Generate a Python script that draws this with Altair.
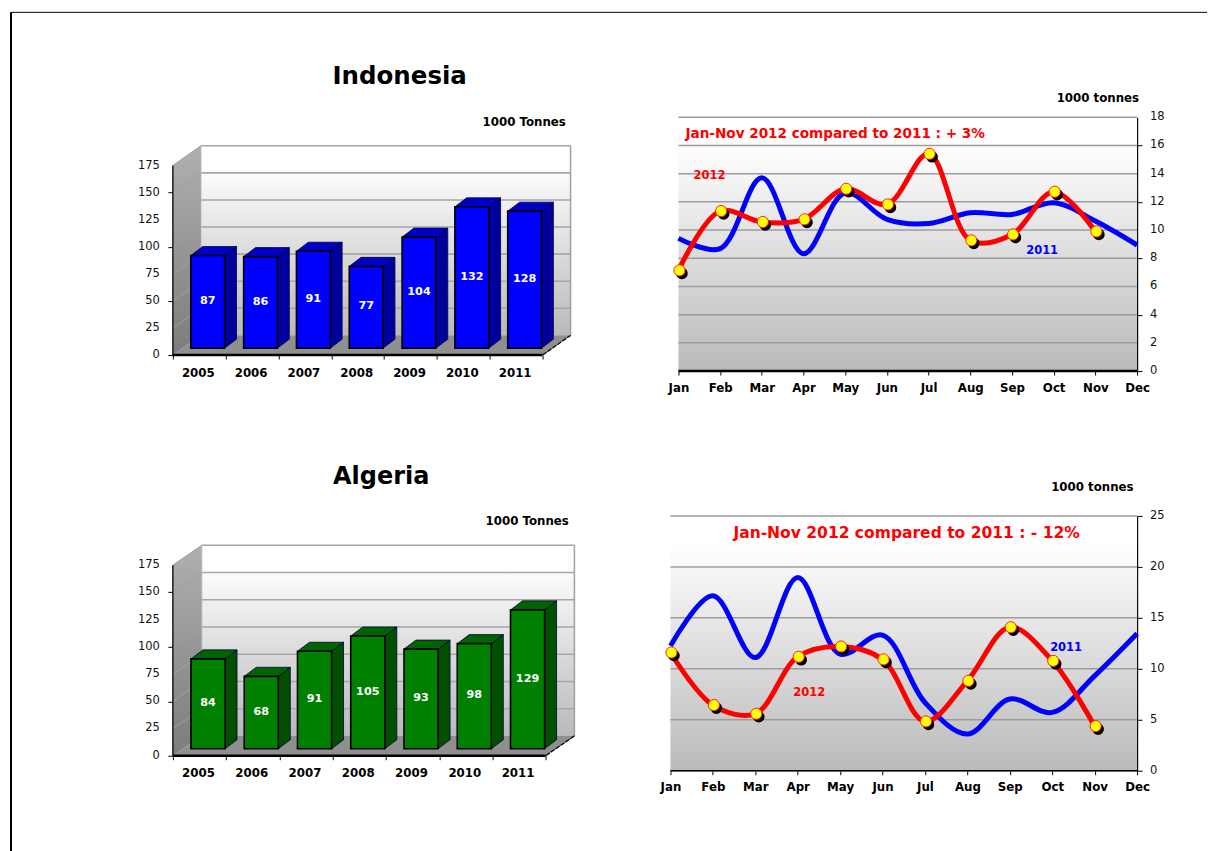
import altair as alt
import pandas as pd

FONT = "DejaVu Sans"
YEARS = ["2005", "2006", "2007", "2008", "2009", "2010", "2011"]
MONTHS = ["Jan", "Feb", "Mar", "Apr", "May", "Jun", "Jul", "Aug", "Sep", "Oct", "Nov", "Dec"]
TICKS_175 = [0, 25, 50, 75, 100, 125, 150, 175]

indonesia_annual = [87, 86, 91, 77, 104, 132, 128]
algeria_annual = [84, 68, 91, 105, 93, 98, 129]

indonesia_2012 = [7.14, 11.35, 10.57, 10.76, 12.93, 11.82, 15.41, 9.27, 9.69, 12.72, 9.9]
indonesia_2011 = [9.41, 8.68, 13.71, 8.32, 12.65, 10.76, 10.47, 11.23, 11.11, 11.94, 10.64, 8.94]
algeria_2012 = [11.6, 6.44, 5.59, 11.18, 12.19, 10.92, 4.84, 8.82, 14.08, 10.78, 4.38]
algeria_2011 = [12.25, 17.16, 11.1, 18.95, 11.44, 13.3, 6.7, 3.6, 7.03, 5.72, 9.31, 13.46]


def label(text, px, py, size, color="black", weight="bold", align="left"):
    return alt.Chart(pd.DataFrame({"t": [text]})).mark_text(
        font=FONT, fontSize=size, fontWeight=weight, color=color, align=align, baseline="middle"
    ).encode(x=alt.value(px), y=alt.value(py), text="t:N")


def gradient(stops):
    return alt.Gradient(gradient="linear", x1=0, y1=0, x2=0, y2=1,
                        stops=[alt.GradientStop(color=c, offset=o) for o, c in stops])


def bar_panel(values, front, top, side, width, height, xmax, ymax, dx, dy, overlays, extra=None):
    sx = alt.Scale(domain=[0, xmax], nice=False, zero=False)
    sy = alt.Scale(domain=[0, ymax], nice=False, zero=False)
    n = len(values)
    X = lambda f: alt.X(f, type="quantitative", scale=sx, title=None)
    Y = lambda f: alt.Y(f, type="quantitative", scale=sy, title=None)
    X2 = lambda f: alt.X2(f)
    Y2 = lambda f: alt.Y2(f)

    axes = alt.Chart(pd.DataFrame({"a": [0], "b": [n], "v": [0]})).mark_rule(opacity=0).encode(
        x=alt.X("a:Q", scale=sx, title=None, axis=alt.Axis(
            values=list(range(n + 1)), grid=False, domain=False, labels=False,
            tickColor="black", tickSize=4, tickWidth=1)),
        x2="b:Q",
        y=alt.Y("v:Q", scale=sy, title=None, axis=alt.Axis(
            values=TICKS_175, grid=False, domain=False, labels=False,
            tickColor="black", tickSize=5, tickWidth=1)),
    )
    # tick labels: years between the ticks, values left of the axis
    zero_px = height - 0
    year_text = alt.Chart(pd.DataFrame({"x": [i + 0.5 for i in range(n)], "t": YEARS})).mark_text(
        font=FONT, fontSize=11.8, fontWeight="bold", color="black", baseline="middle", dx=-1
    ).encode(x=X("x"), y=alt.value(zero_px + 17.5), text="t:N")
    value_text = alt.Chart(pd.DataFrame({"y": TICKS_175})).mark_text(
        font=FONT, fontSize=11.5, color="#111", baseline="middle", align="right"
    ).encode(x=alt.value(-13), y=Y("y"), text=alt.Text("y:Q", format="d"))
    base = alt.Chart(pd.DataFrame({"a": [0], "b": [n], "v": [0]})).mark_rule(
        color="black", strokeWidth=2.5
    ).encode(x=X("a"), x2=X2("b"), y=Y("v"))
    # back wall
    wall = alt.Chart(pd.DataFrame({"x": [dx], "x2": [n + dx], "y": [dy], "y2": [175 + dy]})).mark_rect(
        fill=gradient([(0, "#ffffff"), (0.1, "#ffffff"), (1, "#b9b9b9")])
    ).encode(x=X("x"), x2=X2("x2"), y=Y("y"), y2=Y2("y2"))
    # side wall
    sw = alt.Chart(pd.DataFrame({"x": [0, dx], "y": [0, dy], "y2": [175, 175 + dy]})).mark_area(
        fill=gradient([(0, "#b0b0b0"), (1, "#7c7c7c")])
    ).encode(x=X("x"), y=Y("y"), y2=Y2("y2"))
    # floor
    fl = alt.Chart(pd.DataFrame({"x": [0, dx, n, n + dx], "y": [0, 0, 0, dy], "y2": [0, dy, dy, dy]})).mark_area(
        fill="#8f8f8f"
    ).encode(x=X("x"), y=Y("y"), y2=Y2("y2"))
    # gridlines on the back wall, on the side wall
    gv = [t + dy for t in TICKS_175[1:]]
    grid = alt.Chart(pd.DataFrame({"a": [dx] * 7, "b": [n + dx] * 7, "y": gv})).mark_rule(
        color="#a6a6a6", strokeWidth=1.6
    ).encode(x=X("a"), x2=X2("b"), y=Y("y"))
    edge_r = alt.Chart(pd.DataFrame({"x": [n + dx], "y": [dy], "y2": [175 + dy]})).mark_rule(
        color="#a0a0a0", strokeWidth=1.5
    ).encode(x=X("x"), y=Y("y"), y2=Y2("y2"))
    edge_l = alt.Chart(pd.DataFrame({"x": [dx], "y": [dy], "y2": [175 + dy]})).mark_rule(
        color="#c8c8c8", strokeWidth=1.5
    ).encode(x=X("x"), y=Y("y"), y2=Y2("y2"))
    srows = []
    for t in TICKS_175[1:-1]:
        srows += [{"k": t, "x": 0, "y": t}, {"k": t, "x": dx, "y": t + dy}]
    sgrid = alt.Chart(pd.DataFrame(srows)).mark_line(color="#a0a0a0", strokeWidth=1).encode(
        x=X("x"), y=Y("y"), detail="k:N")
    tl = alt.Chart(pd.DataFrame({"x": [0, dx], "y": [175, 175 + dy]})).mark_line(
        color="#a0a0a0", strokeWidth=1).encode(x=X("x"), y=Y("y"))
    corner = alt.Chart(pd.DataFrame({"x": [n, n + dx], "y": [0, dy]})).mark_line(
        color="black", strokeWidth=1.3, strokeDash=[5, 1]).encode(x=X("x"), y=Y("y"))

    # bars
    off_x, w, bd_x, base_y, bd_y, trim = 0.34, 0.64, 0.225, 6.4, 8.3, 1.5
    fr, sd, tp, lb = [], [], [], []
    for i, v in enumerate(values):
        x0 = i + off_x
        t = base_y + v - trim
        fr.append({"x": x0, "x2": x0 + w, "y": base_y, "y2": t})
        sd += [{"k": i, "x": x0 + w, "y": base_y, "y2": t},
               {"k": i, "x": x0 + w + bd_x, "y": base_y + bd_y, "y2": t + bd_y}]
        tp += [{"k": i, "x": x0, "y": t, "y2": t},
               {"k": i, "x": x0 + bd_x, "y": t, "y2": t + bd_y},
               {"k": i, "x": x0 + w, "y": t, "y2": t + bd_y},
               {"k": i, "x": x0 + w + bd_x, "y": t + bd_y, "y2": t + bd_y}]
        lb.append({"x": x0 + w / 2, "y": base_y + v / 2, "t": str(v)})
    b_side = alt.Chart(pd.DataFrame(sd)).mark_area(fill=side, stroke="#000040", strokeWidth=0.8).encode(
        x=X("x"), y=Y("y"), y2=Y2("y2"), detail="k:N")
    b_top = alt.Chart(pd.DataFrame(tp)).mark_area(fill=top, stroke="#000040", strokeWidth=0.8).encode(
        x=X("x"), y=Y("y"), y2=Y2("y2"), detail="k:N")
    b_front = alt.Chart(pd.DataFrame(fr)).mark_rect(fill=front, stroke="black", strokeWidth=1.6).encode(
        x=X("x"), x2=X2("x2"), y=Y("y"), y2=Y2("y2"))
    b_text = alt.Chart(pd.DataFrame(lb)).mark_text(
        font=FONT, fontSize=11.2, fontWeight="bold", color="white", baseline="middle"
    ).encode(x=X("x"), y=Y("y"), text="t:N")
    yline = alt.Chart(pd.DataFrame({"x": [0], "y": [0], "y2": [175]})).mark_rule(
        color="black", strokeWidth=1.3).encode(x=X("x"), y=Y("y"), y2=Y2("y2"))

    layers = [axes, wall, grid, edge_l, edge_r, sw, sgrid, tl, fl, corner, b_side, b_top, b_front, b_text,
              yline, base, year_text, value_text]
    layers += overlays
    if extra:
        layers += extra
    return alt.layer(*layers).properties(width=width, height=height)


def line_panel(v2012, v2011, width, height, xmin, ymax, step, base_w, overlays):
    sx = alt.Scale(domain=[xmin, 11], nice=False, zero=False)
    sy = alt.Scale(domain=[0, ymax], nice=False, zero=False)
    X = lambda f: alt.X(f, type="quantitative", scale=sx, title=None)
    Y = lambda f: alt.Y(f, type="quantitative", scale=sy, title=None)
    ticks = list(range(0, ymax + step, step))
    axes = alt.Chart(pd.DataFrame({"a": [0], "b": [11], "v": [0]})).mark_rule(opacity=0).encode(
        x=alt.X("a:Q", scale=sx, title=None, axis=alt.Axis(
            values=list(range(12)), grid=False, domain=False, tickColor="black", tickSize=4, tickWidth=1,
            labelExpr=str(MONTHS) + "[datum.value]",
            labelFont=FONT, labelFontSize=11.8, labelFontWeight="bold", labelColor="black",
            labelPadding=7, labelOverlap=False, labelFlush=False, labelBound=False)),
        x2="b:Q",
        y=alt.Y("v:Q", scale=sy, title=None, axis=alt.Axis(
            orient="right", values=ticks, grid=False, domain=True, domainColor="black", domainWidth=1.3,
            tickColor="black", tickSize=5, tickWidth=1, labels=False)),
    )
    value_text = alt.Chart(pd.DataFrame({"y": ticks})).mark_text(
        font=FONT, fontSize=11.5, color="#111", baseline="middle", align="left"
    ).encode(x=alt.value(width + 13), y=Y("y"), text=alt.Text("y:Q", format="d"))
    bg = alt.Chart(pd.DataFrame({"x": [0], "x2": [11], "y": [0], "y2": [ymax]})).mark_rect(
        fill=gradient([(0, "#ffffff"), (0.1, "#ffffff"), (1, "#bababa")])
    ).encode(x=X("x"), x2=alt.X2("x2"), y=Y("y"), y2=alt.Y2("y2"))
    grid = alt.Chart(pd.DataFrame({"a": [0] * len(ticks), "b": [11] * len(ticks), "y": ticks})).mark_rule(
        color="#9c9c9c", strokeWidth=1.5
    ).encode(x=X("a"), x2=alt.X2("b"), y=Y("y"))
    d11 = pd.DataFrame({"m": range(len(v2011)), "v": v2011})
    d12 = pd.DataFrame({"m": range(len(v2012)), "v": v2012})
    l11 = alt.Chart(d11).mark_line(color="#0000ff", strokeWidth=5, interpolate="catmull-rom").encode(
        x=X("m"), y=Y("v"))
    l12 = alt.Chart(d12).mark_line(color="#ff0000", strokeWidth=5, interpolate="catmull-rom").encode(
        x=X("m"), y=Y("v"))
    shadow = alt.Chart(d12).mark_circle(color="black", opacity=1, size=135, xOffset=3.5, yOffset=3).encode(
        x=X("m"), y=Y("v"))
    dots = alt.Chart(d12).mark_circle(
        fill="#ffff00", opacity=1, stroke="#ff2020", strokeWidth=1, size=125, xOffset=1
    ).encode(x=X("m"), y=Y("v"))
    base = alt.Chart(pd.DataFrame({"a": [0], "b": [11], "v": [0]})).mark_rule(
        color="black", strokeWidth=base_w
    ).encode(x=X("a"), x2=alt.X2("b"), y=Y("v"))
    layers = [axes, bg, grid, l11, l12, shadow, dots, base, value_text] + overlays
    return alt.layer(*layers).properties(width=width, height=height)


# page frame, drawn relative to the first panel (its corner is at page 173,116)
frame_top = alt.Chart(pd.DataFrame({"k": [0]})).mark_rule(color="black", strokeWidth=1).encode(
    x=alt.value(-162), x2=alt.value(1035), y=alt.value(-105))
frame_left = alt.Chart(pd.DataFrame({"k": [0]})).mark_rule(color="black", strokeWidth=2).encode(
    x=alt.value(-162), y=alt.value(-105), y2=alt.value(735))

indo_bar = bar_panel(
    indonesia_annual, "#0000ff", "#0000c4", "#00009c", 402, 238, 402 / 52.86, 238 / 1.084, 0.53, 18.2,
    [label("Indonesia", 227, -40, 24.5, align="center"),
     label("1000 Tonnes", 310, 5, 11.8)],
    extra=[frame_top, frame_left])
indo_line = line_panel(
    indonesia_2012, indonesia_2011, 467, 254, -8 / 41.7, 18, 2, 2.5,
    [label("Jan-Nov 2012 compared to 2011 : + 3%", 15, 17, 13.6, "#ff0000"),
     label("2012", 23, 59, 11.5, "#ff0000"),
     label("2011", 356, 134, 11.5, "#0000ff"),
     label("1000 tonnes", 386.5, -19, 11.8)])
alg_bar = bar_panel(
    algeria_annual, "#008000", "#006400", "#005000", 402, 240, 402 / 53.3, 240 / 1.09, 0.54, 18.2,
    [label("Algeria", 208.5, -39, 24, align="center"),
     label("1000 Tonnes", 313, 5, 11.8)])
alg_line = line_panel(
    algeria_2012, algeria_2011, 467, 255, 0, 25, 5, 1.5,
    [label("Jan-Nov 2012 compared to 2011 : - 12%", 63, 17, 15.55, "#ff0000"),
     label("2012", 123, 177, 11.5, "#ff0000"),
     label("2011", 380, 132, 11.5, "#0000ff"),
     label("1000 tonnes", 381, -29, 11.8)])

chart = alt.concat(
    indo_bar, indo_line, alg_bar, alg_line, columns=2,
    spacing={"row": 145, "column": 96}, bounds="flush",
).properties(
    padding={"left": 2, "top": 3, "right": 0, "bottom": 0}, background="white"
).configure_view(stroke=None)

chart.save("out.html", embed_options={"renderer": "svg", "actions": False})
